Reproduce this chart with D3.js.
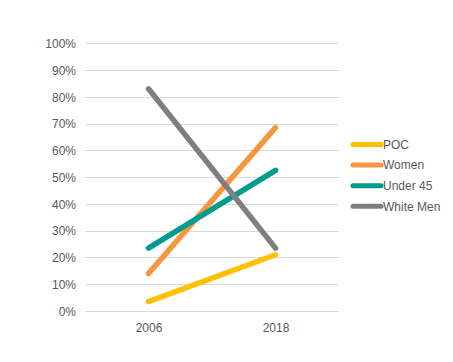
<!DOCTYPE html>
<html><head><meta charset="utf-8">
<script src="https://cdn.jsdelivr.net/npm/d3@7/dist/d3.min.js"></script>
<style>body{margin:0;background:#fff}svg{display:block;font-family:"Liberation Sans",Arial,sans-serif}</style>
</head><body><svg id="c" width="453" height="362"></svg>
<script>
const years = ["2006", "2018"];
const seriesNames = ["POC", "Women", "Under 45", "White Men"];
const poc = [3.5, 21];
const women = [14, 68.5];
const under45 = [23.5, 52.5];
const whiteMen = [83, 23.5];
const colors = ["#FFC000", "#F7963C", "#009B8F", "#7F7F7F"];
const yTicks = [0,10,20,30,40,50,60,70,80,90,100];

const allValues = [poc, women, under45, whiteMen];
const svg = d3.select("#c");
const x = d3.scalePoint().domain(years).range([85, 339]).padding(0.5);
const y = d3.scaleLinear().domain([0, 100]).range([311, 43.3]);

svg.append("g").selectAll("line").data(yTicks).join("line")
  .attr("x1", 85).attr("x2", 339)
  .attr("y1", d => Math.round(y(d)) + 0.5).attr("y2", d => Math.round(y(d)) + 0.5)
  .attr("stroke", "#d9d9d9").attr("stroke-width", 1);

const yAxis = svg.append("g").attr("transform", "translate(79,0)")
  .call(d3.axisLeft(y).tickValues(yTicks).tickFormat(d => d + "%").tickSize(0));
yAxis.select(".domain").remove();
yAxis.selectAll("text").attr("fill", "#595959").style("font-size", "12px").attr("dy", "0.35em");

const xAxis = svg.append("g").attr("transform", "translate(0,320)")
  .call(d3.axisBottom(x).tickSize(0));
xAxis.select(".domain").remove();
xAxis.selectAll("text").attr("fill", "#595959").style("font-size", "12px").attr("dy", "0.71em");

const line = d3.line().x((d, i) => x(years[i])).y(d => y(d));
svg.append("g").selectAll("path").data(allValues).join("path")
  .attr("d", d => line(d)).attr("fill", "none")
  .attr("stroke", (d, i) => colors[i]).attr("stroke-width", 5.5)
  .attr("stroke-linecap", "round");

const lg = svg.append("g").selectAll("g").data(seriesNames).join("g")
  .attr("transform", (d, i) => `translate(0,${144.5 + i * 20.6})`);
lg.append("line").attr("x1", 353).attr("x2", 381).attr("y1", 0).attr("y2", 0)
  .attr("stroke", (d, i) => colors[i]).attr("stroke-width", 5).attr("stroke-linecap", "round");
lg.append("text").attr("x", 383).attr("y", 0).attr("dy", "0.35em")
  .attr("fill", "#595959").style("font-size", "12px").text(d => d);
</script></body></html>
